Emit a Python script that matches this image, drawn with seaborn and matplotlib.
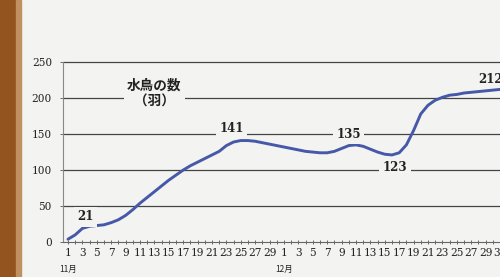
import numpy as np
import pandas as pd
import matplotlib
matplotlib.use("Agg")
import matplotlib.pyplot as plt
import seaborn as sns
from matplotlib.patches import Rectangle

nov_days = list(range(1, 31))
dec_days = list(range(1, 32))
nov_counts = [4, 10, 19, 22, 23, 24, 27, 31, 37, 45, 54, 62, 70, 78, 86, 93, 100, 106, 111, 116,
              121, 126, 134, 139, 141, 141, 140, 138, 136, 134]
dec_counts = [132, 130, 128, 126, 125, 124, 124, 126, 130, 134, 135, 133, 129, 125, 122, 121, 124,
              135, 155, 178, 190, 197, 201, 204, 205, 207, 208, 209, 210, 211, 212]
y_ticks = [0, 50, 100, 150, 200, 250]
annotations = ["21", "141", "135", "123", "212"]
title = "水鳥の数\n（羽）"
month_labels = ["11月", "12月"]

days_label = [str(d) for d in nov_days] + [str(d) for d in dec_days]
counts = nov_counts + dec_counts
df = pd.DataFrame({"idx": np.arange(len(counts)), "count": counts})

sns.set_theme(style="white")
plt.rcParams['font.family'] = ['DejaVu Serif', 'Noto Sans CJK JP']

fig = plt.figure(figsize=(5.0, 2.77), dpi=100)
fig.patch.set_facecolor("#f3f3f1")
fig.patches.append(Rectangle((0, 0), 0.032, 1, transform=fig.transFigure, color="#94541f", zorder=0))
fig.patches.append(Rectangle((0.032, 0), 0.01, 1, transform=fig.transFigure, color="#c09060", zorder=0))

ax = fig.add_axes([0.126, 0.126, 0.874, 0.65])
ax.set_facecolor("#f3f3f1")

ax.set_xlim(-0.69, 59.75)
ax.set_ylim(0, 250)

for yv in y_ticks[1:]:
    ax.axhline(yv, color="#444444", lw=0.9, zorder=1, clip_on=False)

sns.lineplot(data=df, x="idx", y="count", ax=ax, color="#4658a8", lw=2.1, zorder=3)

ann_pos = [(2.4, 35), (22.7, 158), (39.0, 150), (45.4, 103), (58.7, 226)]
for txt, (xi, yi) in zip(annotations, ann_pos):
    ax.text(xi, yi, txt, ha="center", va="center", fontsize=8.5, fontweight="bold",
            color="#222222", zorder=5, clip_on=False,
            bbox=dict(facecolor="#f3f3f1", edgecolor="none", pad=1.5 if txt == "212" else 2.5))

ax.text(12.0, 206, title, ha="center", va="center", fontsize=9.8, fontweight="bold",
        family=['Noto Sans CJK JP'], color="#222222", zorder=5, linespacing=1.15,
        bbox=dict(facecolor="#f3f3f1", edgecolor="none", pad=2.5))

odd_idx = [i for i, d in enumerate(days_label) if int(d) % 2 == 1]
ax.set_xticks(odd_idx)
ax.set_xticklabels([days_label[i] for i in odd_idx], fontsize=7.6, color="#222222")
ax.set_xticks(np.arange(len(counts)), minor=True)
ax.tick_params(axis="x", which="both", direction="inout", length=3, width=0.6, color="#555555", pad=3,
               bottom=True)
ax.set_yticks(y_ticks)
ax.set_yticklabels([str(v) for v in y_ticks], fontsize=7.6, color="#222222")
ax.tick_params(axis="y", direction="inout", length=4, width=0.6, color="#555555", left=True, pad=6)

for s in ["top", "right"]:
    ax.spines[s].set_visible(False)
ax.spines["left"].set_color("#888888")
ax.spines["left"].set_linewidth(0.8)
ax.spines["bottom"].set_color("#666666")
ax.spines["bottom"].set_linewidth(0.8)
ax.set_xlabel("")
ax.set_ylabel("")

for txt, i in zip(month_labels, [0, 30]):
    ax.annotate(txt, xy=(i, 0), xycoords=("data", "axes fraction"), xytext=(0, -20),
                textcoords="offset points", ha="center", va="center", fontsize=6,
                family=['Noto Sans CJK JP'], color="#222222", annotation_clip=False)

fig.savefig("out.png", dpi=100, facecolor=fig.get_facecolor())
